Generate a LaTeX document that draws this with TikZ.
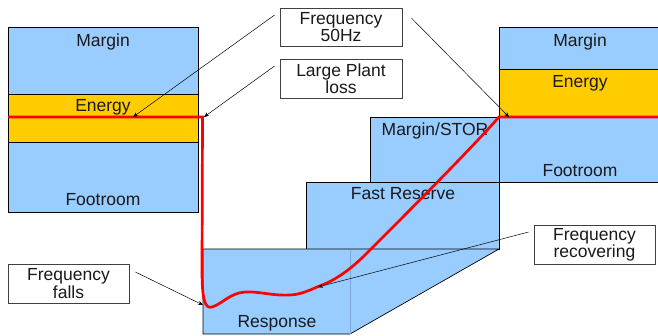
\documentclass[tikz,border=0pt]{standalone}
\usepackage{fontspec}
\setmainfont{Liberation Sans}
\usetikzlibrary{arrows.meta}
\definecolor{lblue}{HTML}{99CCFF}
\definecolor{gold}{HTML}{FFCC00}
\definecolor{txt}{HTML}{1A1A1A}
\definecolor{edgeblue}{HTML}{7FA8D8}
\begin{document}
\begin{tikzpicture}[x=1pt,y=-1pt,
 blk/.style={fill=lblue,draw=black,line width=0.7pt},
 en/.style={fill=gold,draw=black,line width=0.7pt},
 lbl/.style={anchor=base,inner sep=0pt,text=txt,font=\fontsize{17.5}{16}\selectfont},
 callout/.style={draw=black!75,fill=white,line width=0.8pt,minimum width=122pt,minimum height=38pt,inner sep=0pt,align=center,text=txt,font=\fontsize{17.5}{16.3}\selectfont},
 arr/.style={-{Stealth[length=5pt,width=4pt]},line width=0.5pt},
 redline/.style={red,line width=2.7pt,line join=miter}]
\useasboundingbox (0,0) rectangle (658,335);
\clip (0,0) rectangle (658,335);
% right block
\path[blk] (499,27) rectangle (672,182);
\path[en] (499,69) rectangle (672,117);
% margin/stor
\path[blk] (370,117) rectangle (499,182);
% fast reserve
\path[blk] (306,182) rectangle (499,249);
% response
\path[blk] (203,249) -- (499,249) -- (350,334) -- (203,334) -- cycle;
\draw[edgeblue,line width=0.6pt] (350,249.5) -- (350,333.5);
% left block
\path[blk] (8,27) rectangle (198,212);
\path[en] (8,94) rectangle (198,142);
% labels
\node[lbl] (lmar) at (103,46) {Margin};
\node[lbl] (len) at (103,111) {Energy};
\node[lbl] (lfoot) at (103,205) {Footroom};
\node[lbl] (rmar) at (580,46) {Margin};
\node[lbl] (ren) at (580,87) {Energy};
\node[lbl] (rfoot) at (580,176) {Footroom};
\node[lbl] (stor) at (435,135) {Margin/STOR};
\node[lbl] (fast) at (403,199) {Fast Reserve};
\node[lbl] (resp) at (277,327) {Response};
% red frequency line
\draw[redline] (8,117) -- (202.5,117) -- (202,270)
  .. controls (202,300) and (205,309) .. (212,307)
  .. controls (222,304) and (230,293) .. (245,292)
  .. controls (258,291) and (272,296) .. (290,295)
  .. controls (300,294.5) and (308,291) .. (317,287)
  .. controls (337,280) and (352,268) .. (367,253)
  .. controls (400,220) and (470,150) .. (499,117) -- (672,117);
% callouts
\node[callout] (f50) at (341,27) {Frequency\\50Hz};
\node[callout,minimum height=39pt] (lpl) at (341,78.5) {Large Plant\\loss};
\node[callout,minimum width=121pt,minimum height=39pt] (ffall) at (68.5,283.5) {Frequency\\falls};
\node[callout,minimum width=121pt,minimum height=39pt] (frec) at (594.5,244.5) {Frequency\\recovering};
\coordinate (t1) at (133,117);
\coordinate (t2) at (509,117);
\coordinate (t3) at (204,117);
\coordinate (t4) at (203,305);
\coordinate (t5) at (318,287);
\draw[arr] ([shift={(-5,-12)}]f50.west) -- (t1);
\draw[arr] ([shift={(9,-9)}]f50.east) -- (t2);
\draw[arr] ([shift={(-5,-12.5)}]lpl.west) -- (t3);
\draw[arr] ([shift={(6,-11.5)}]ffall.east) -- (t4);
\draw[arr] ([shift={(-5,-12.5)}]frec.west) -- (t5);
\end{tikzpicture}
\end{document}
